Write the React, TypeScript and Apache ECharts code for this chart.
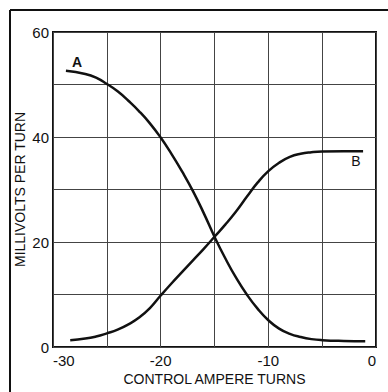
import React, { useEffect, useRef } from "react";
import * as echarts from "echarts";

const curveA: [number, number][] = [
  [-28.8, 52.6], [-27, 52.0], [-26, 51.3], [-25, 50.1], [-24, 48.7], [-23, 46.9],
  [-22, 44.9], [-21, 42.6], [-20, 39.9], [-19, 36.8], [-18, 33.4], [-17, 29.7],
  [-16, 25.5], [-15, 21.0], [-14, 16.9], [-13, 13.2], [-12, 10.0], [-11, 7.3],
  [-10, 5.1], [-9, 3.5], [-8, 2.5], [-7, 1.9], [-6, 1.5], [-5, 1.3], [-3, 1.15],
  [-1, 1.1],
];
const curveB: [number, number][] = [
  [-28.4, 1.3], [-27, 1.6], [-26, 2.0], [-25, 2.6], [-24, 3.3], [-23, 4.3],
  [-22, 5.6], [-21, 7.4], [-20, 9.8], [-19, 12.1], [-18, 14.3], [-17, 16.5],
  [-16, 18.7], [-15, 21.0], [-14, 23.3], [-13, 25.8], [-12, 28.6], [-11, 31.3],
  [-10, 33.5], [-9, 35.1], [-8, 36.2], [-7, 36.8], [-6, 37.1], [-5, 37.25],
  [-3, 37.3], [-1.2, 37.3],
];
const xTicks = [-30, -20, -10, 0];
const yTicks = [0, 20, 40, 60];

export default function App() {
  const ref = useRef<HTMLDivElement>(null);
  useEffect(() => {
    if (!ref.current) return;
    const chart = echarts.init(ref.current, undefined, { renderer: "svg" });
    const font = "Liberation Sans, Arial, sans-serif";
    chart.setOption({
      animation: false,
      backgroundColor: "#ffffff",
      grid: {
        left: 53, top: 32, right: 12, bottom: 45,
        containLabel: false, outerBoundsMode: "none",
        show: true, borderColor: "#111", borderWidth: 2,
      },
      xAxis: {
        type: "value", min: -30, max: 0, interval: 5,
        axisLine: { show: false }, axisTick: { show: false },
        splitLine: { show: true, lineStyle: { color: "#444", width: 1 } },
        axisLabel: {
          color: "#111", fontFamily: font, fontSize: 15, margin: 6,
          alignMinLabel: "left", alignMaxLabel: "right",
          formatter: (v: number) => (xTicks.includes(v) ? String(v) : ""),
        },
        name: "CONTROL AMPERE TURNS", nameLocation: "middle", nameGap: 25,
        nameMoveOverlap: false,
        nameTextStyle: { color: "#111", fontFamily: font, fontSize: 14 },
      },
      yAxis: {
        type: "value", min: 0, max: 60, interval: 10,
        axisLine: { show: false }, axisTick: { show: false },
        splitLine: { show: true, lineStyle: { color: "#444", width: 1 } },
        axisLabel: {
          color: "#111", fontFamily: font, fontSize: 15, margin: 4,
          formatter: (v: number) => (yTicks.includes(v) ? String(v) : ""),
        },
        name: "MILLIVOLTS PER TURN", nameLocation: "middle", nameGap: 26,
        nameMoveOverlap: false,
        nameTextStyle: { color: "#111", fontFamily: font, fontSize: 14 },
      },
      series: [
        {
          type: "line", data: curveA, smooth: 0.5, showSymbol: false,
          lineStyle: { color: "#111", width: 2.5 },
        },
        {
          type: "line", data: curveB, smooth: 0.5, showSymbol: false,
          lineStyle: { color: "#111", width: 2.5 },
        },
      ],
      graphic: [
        { type: "line", shape: { x1: 10, y1: 10, x2: 10, y2: 392 }, style: { stroke: "#111", lineWidth: 2 } },
        { type: "line", shape: { x1: 10, y1: 10, x2: 388, y2: 10 }, style: { stroke: "#111", lineWidth: 2 } },
        { type: "text", x: 77, y: 62, style: { text: "A", fill: "#111", font: "bold 14px Liberation Sans, Arial, sans-serif", align: "center", verticalAlign: "middle" } },
        { type: "text", x: 356, y: 161, style: { text: "B", fill: "#111", font: "14px Liberation Sans, Arial, sans-serif", align: "center", verticalAlign: "middle" } },
      ],
    });
    return () => chart.dispose();
  }, []);
  return (
    <div
      ref={ref}
      style={{ position: "fixed", left: 0, top: 0, width: 388, height: 392, background: "#fff" }}
    />
  );
}
